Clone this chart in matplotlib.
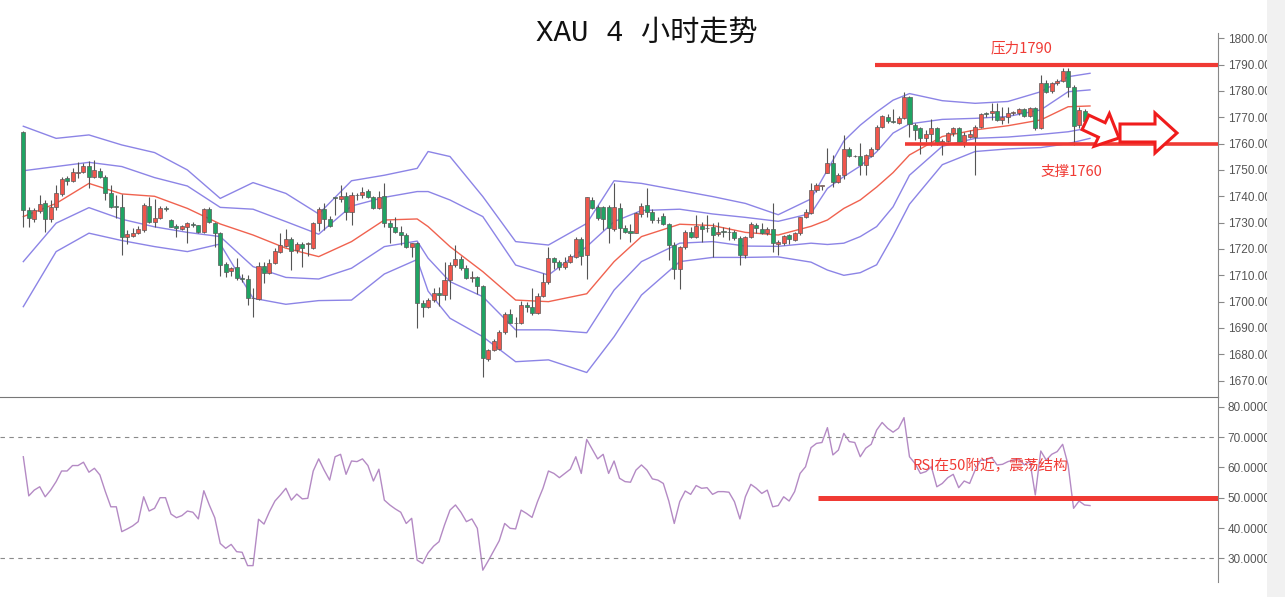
import matplotlib.pyplot as plt
import matplotlib.patches as mpatches
import numpy as np

# ---- données (bougies 4H, indice = position) ----
OPEN = [1764.5, 1734.8, 1731.4, 1734.6, 1737.6, 1731.5, 1735.8, 1740.9, 1746.8, 1745.9,
        1749.0, 1749.4, 1751.5, 1747.5, 1749.7, 1747.5, 1741.4, 1736.3, 1735.8, 1724.7,
        1725.0, 1726.0, 1727.2, 1736.3, 1730.4, 1731.6, 1735.4, 1731.0, 1728.7, 1727.7,
        1728.2, 1729.5, 1729.0, 1726.6, 1735.1, 1730.0, 1726.2, 1714.3, 1711.8, 1713.0,
        1708.9, 1708.5, 1701.3, 1701.0, 1713.7, 1711.0, 1714.6, 1719.0, 1721.1, 1723.8,
        1719.6, 1721.9, 1721.9, 1720.3, 1729.8, 1735.1, 1731.3, 1739.6, 1738.9, 1740.1,
        1734.2, 1740.5, 1740.5, 1742.0, 1739.6, 1735.7, 1740.1, 1730.0, 1728.5, 1726.6,
        1725.3, 1720.6, 1722.2, 1699.6, 1697.9, 1700.6, 1703.4, 1702.5, 1708.2, 1713.9,
        1716.1, 1712.7, 1708.9, 1709.3, 1706.0, 1678.1, 1681.7, 1681.9, 1688.3, 1695.3,
        1692.0, 1691.8, 1698.7, 1697.9, 1695.6, 1702.0, 1707.6, 1716.5, 1715.2, 1713.0,
        1715.2, 1717.1, 1723.7, 1717.7, 1738.6, 1735.8, 1735.8, 1735.8, 1727.5, 1735.4,
        1727.9, 1726.8, 1726.2, 1733.3, 1736.7, 1734.2, 1731.0, 1732.5, 1729.5, 1721.5,
        1712.3, 1720.6, 1726.6, 1724.7, 1728.7, 1727.9, 1728.2, 1725.7, 1726.6, 1726.4,
        1726.6, 1724.1, 1717.7, 1724.7, 1729.1, 1727.5, 1726.2, 1727.5, 1721.9, 1722.4,
        1725.3, 1723.4, 1726.0, 1732.0, 1733.8, 1742.4, 1743.9, 1748.9, 1752.5, 1745.6,
        1748.1, 1757.9, 1755.3, 1755.3, 1751.7, 1755.4, 1757.9, 1766.2, 1770.0, 1768.4,
        1768.0, 1769.6, 1777.6, 1767.1, 1765.8, 1762.0, 1763.7, 1765.8, 1759.9, 1761.1,
        1763.9, 1766.1, 1760.8, 1762.4, 1762.4, 1766.2, 1771.5, 1771.5, 1772.5, 1769.0,
        1770.2, 1771.5, 1771.8, 1773.0, 1770.5, 1773.4, 1765.8, 1783.2, 1780.1, 1782.9,
        1783.9, 1787.7, 1781.6, 1767.1, 1772.5, 1768.4]
HIGH = [1764.8, 1735.8, 1735.4, 1740.5, 1738.6, 1738.6, 1744.3, 1747.5, 1747.7, 1750.6,
        1753.2, 1752.5, 1753.5, 1753.8, 1750.6, 1748.1, 1744.3, 1740.5, 1740.9, 1727.2,
        1727.8, 1728.7, 1737.3, 1739.9, 1738.9, 1736.3, 1736.3, 1731.2, 1729.5, 1729.1,
        1730.4, 1730.4, 1729.1, 1735.4, 1735.8, 1730.4, 1726.6, 1715.2, 1713.3, 1716.5,
        1710.5, 1710.1, 1705.1, 1715.2, 1715.2, 1716.1, 1720.3, 1726.0, 1727.5, 1724.4,
        1722.8, 1722.8, 1722.8, 1730.4, 1735.8, 1737.3, 1732.5, 1739.9, 1744.3, 1741.8,
        1741.8, 1741.4, 1743.7, 1742.7, 1740.1, 1742.1, 1745.2, 1731.0, 1732.3, 1728.7,
        1726.0, 1722.4, 1722.8, 1700.6, 1701.3, 1705.1, 1705.7, 1715.2, 1715.2, 1721.5,
        1717.3, 1713.9, 1711.8, 1709.8, 1706.3, 1681.9, 1685.7, 1689.3, 1696.2, 1697.1,
        1694.3, 1700.4, 1700.0, 1705.1, 1703.2, 1710.8, 1720.9, 1717.1, 1715.8, 1717.1,
        1718.1, 1724.4, 1724.4, 1739.9, 1739.9, 1736.7, 1736.3, 1736.7, 1744.9, 1737.3,
        1729.1, 1729.5, 1734.2, 1737.6, 1743.0, 1735.1, 1732.3, 1733.8, 1729.7, 1722.8,
        1721.1, 1727.2, 1728.5, 1732.9, 1730.4, 1732.9, 1729.7, 1730.4, 1728.5, 1728.2,
        1727.2, 1725.0, 1725.0, 1730.4, 1729.8, 1729.8, 1728.2, 1737.3, 1723.4, 1725.3,
        1725.7, 1726.6, 1732.3, 1735.1, 1744.9, 1744.9, 1744.1, 1758.2, 1755.7, 1748.7,
        1763.3, 1758.9, 1755.8, 1760.4, 1756.1, 1758.6, 1767.1, 1770.9, 1771.3, 1773.0,
        1770.5, 1779.7, 1778.1, 1768.0, 1766.4, 1765.0, 1769.2, 1766.4, 1761.6, 1764.6,
        1766.5, 1766.5, 1764.6, 1765.0, 1767.1, 1771.5, 1772.1, 1775.3, 1775.3, 1774.0,
        1774.0, 1772.5, 1773.4, 1773.4, 1774.0, 1774.0, 1786.1, 1784.2, 1783.5, 1784.4,
        1788.6, 1788.9, 1782.3, 1773.8, 1773.0, 1769.0]
LOW = [1728.5, 1728.2, 1730.4, 1733.5, 1726.6, 1730.4, 1734.8, 1740.1, 1744.3, 1745.6,
       1746.8, 1748.7, 1743.0, 1746.8, 1746.8, 1738.6, 1735.4, 1731.6, 1717.7, 1721.9,
       1724.7, 1725.7, 1726.6, 1730.0, 1728.2, 1731.3, 1734.6, 1728.2, 1724.4, 1727.2,
       1722.2, 1728.5, 1726.0, 1726.2, 1729.7, 1720.6, 1709.8, 1709.5, 1709.8, 1708.2,
       1707.6, 1698.7, 1694.3, 1700.6, 1707.0, 1710.5, 1714.3, 1718.4, 1720.6, 1712.0,
       1718.6, 1713.3, 1717.3, 1719.9, 1727.0, 1727.2, 1728.5, 1732.9, 1738.0, 1731.0,
       1729.1, 1738.6, 1739.2, 1739.2, 1735.1, 1735.1, 1728.2, 1722.2, 1726.0, 1721.6,
       1720.3, 1717.1, 1689.9, 1694.3, 1697.5, 1700.0, 1698.4, 1700.6, 1700.9, 1713.3,
       1712.0, 1708.5, 1707.6, 1702.9, 1671.5, 1677.6, 1681.4, 1681.7, 1687.7, 1691.8,
       1686.7, 1691.5, 1696.2, 1695.0, 1695.3, 1701.7, 1706.7, 1712.3, 1712.0, 1712.3,
       1714.8, 1716.5, 1713.9, 1708.5, 1735.1, 1731.0, 1727.2, 1722.2, 1727.0, 1723.7,
       1726.0, 1722.8, 1726.0, 1732.3, 1732.3, 1729.8, 1729.8, 1729.1, 1715.8, 1708.5,
       1704.7, 1719.9, 1724.1, 1724.1, 1722.8, 1726.6, 1716.8, 1724.9, 1724.7, 1723.4,
       1723.4, 1713.9, 1716.5, 1724.1, 1726.0, 1725.7, 1725.3, 1719.0, 1717.7, 1721.5,
       1721.9, 1723.2, 1725.3, 1731.6, 1733.3, 1741.8, 1742.4, 1748.7, 1743.4, 1745.2,
       1746.5, 1754.8, 1754.9, 1748.1, 1747.9, 1754.8, 1757.6, 1765.8, 1767.7, 1768.0,
       1767.5, 1769.2, 1762.7, 1761.4, 1756.1, 1760.8, 1759.1, 1759.5, 1755.7, 1760.8,
       1762.9, 1760.1, 1758.6, 1762.0, 1748.1, 1765.8, 1770.2, 1769.0, 1768.4, 1767.5,
       1767.7, 1770.8, 1770.8, 1770.0, 1770.0, 1765.2, 1765.4, 1779.1, 1779.1, 1782.3,
       1783.5, 1777.8, 1759.5, 1765.8, 1768.0, 1767.6]
CLOSE = [1734.8, 1731.6, 1734.8, 1737.1, 1731.5, 1735.8, 1741.1, 1746.4, 1745.9, 1749.4,
         1749.4, 1751.5, 1747.5, 1750.0, 1747.5, 1741.4, 1735.8, 1735.8, 1724.4, 1725.7,
         1726.2, 1727.5, 1736.7, 1730.4, 1731.6, 1735.4, 1735.1, 1728.5, 1727.8, 1728.7,
         1729.7, 1729.0, 1726.6, 1735.1, 1730.4, 1726.2, 1713.9, 1711.4, 1712.9, 1708.9,
         1708.7, 1701.3, 1701.2, 1713.7, 1711.0, 1714.8, 1719.2, 1721.4, 1723.8, 1719.4,
         1721.9, 1720.3, 1722.0, 1730.0, 1735.1, 1731.3, 1728.7, 1739.5, 1740.1, 1734.2,
         1740.5, 1740.4, 1741.8, 1739.6, 1735.4, 1739.9, 1730.0, 1728.5, 1726.6, 1725.3,
         1720.6, 1722.2, 1699.6, 1697.9, 1700.6, 1703.2, 1702.5, 1708.2, 1713.9, 1716.1,
         1712.7, 1708.9, 1709.5, 1706.0, 1678.5, 1681.7, 1685.2, 1688.6, 1695.3, 1692.0,
         1691.8, 1698.7, 1697.9, 1695.6, 1702.2, 1707.6, 1716.5, 1715.2, 1713.0, 1715.2,
         1717.3, 1723.7, 1717.3, 1739.6, 1735.4, 1731.6, 1731.3, 1727.9, 1735.8, 1727.9,
         1726.6, 1726.2, 1733.5, 1736.3, 1734.2, 1731.0, 1730.9, 1729.5, 1721.5, 1712.3,
         1720.6, 1726.6, 1724.7, 1728.7, 1727.5, 1727.8, 1725.3, 1726.6, 1726.5, 1726.3,
         1724.1, 1717.7, 1724.7, 1729.5, 1727.9, 1726.2, 1727.5, 1722.2, 1722.8, 1724.9,
         1723.7, 1726.2, 1732.0, 1734.2, 1742.4, 1744.3, 1744.0, 1752.5, 1745.6, 1748.1,
         1757.9, 1755.3, 1755.2, 1751.7, 1755.5, 1757.9, 1766.4, 1770.5, 1768.4, 1768.3,
         1769.6, 1777.6, 1767.5, 1765.2, 1762.0, 1763.7, 1765.8, 1759.9, 1761.1, 1763.9,
         1766.1, 1760.8, 1763.3, 1763.7, 1766.5, 1771.3, 1771.4, 1772.5, 1769.0, 1770.2,
         1771.8, 1772.1, 1773.0, 1770.5, 1773.4, 1765.8, 1783.2, 1779.7, 1783.2, 1783.9,
         1787.7, 1781.6, 1766.7, 1772.8, 1768.4, 1768.2]

# bandes (deux enveloppes violettes + moyenne rouge), relevées à quelques bougies
BAND_IDX = [0, 6, 12, 18, 24, 30, 36, 42, 48, 54, 60, 66, 72, 74, 78, 84, 90, 96, 103,
            108, 113, 120, 126, 132, 138, 144, 147, 150, 153, 156, 159, 162, 168, 174,
            180, 186, 191, 195]
UPPER_OUT = [1766.6, 1762.0, 1763.3, 1759.5, 1756.6, 1750.0, 1739.2, 1745.2, 1741.1, 1733.3,
             1745.9, 1748.0, 1750.6, 1757.0, 1755.1, 1739.9, 1722.8, 1721.5, 1729.7, 1745.9,
             1744.9, 1742.2, 1739.9, 1737.3, 1733.0, 1739.0, 1750.0, 1761.0, 1767.0, 1772.0,
             1776.5, 1779.0, 1776.3, 1775.3, 1776.0, 1779.7, 1785.4, 1786.7]
UPPER_IN = [1749.7, 1751.3, 1752.9, 1751.3, 1747.1, 1743.9, 1735.8, 1735.1, 1730.4, 1725.6,
            1736.3, 1739.6, 1741.8, 1741.8, 1738.6, 1732.3, 1713.9, 1710.1, 1720.9, 1730.4,
            1734.6, 1735.1, 1733.3, 1732.0, 1730.5, 1733.5, 1743.0, 1747.5, 1751.5, 1756.9,
            1764.0, 1767.5, 1769.2, 1769.6, 1770.3, 1772.8, 1779.7, 1780.4]
MA_MID = [1732.3, 1737.3, 1744.9, 1740.9, 1740.0, 1735.4, 1729.5, 1725.3, 1720.3, 1717.1,
          1722.8, 1731.0, 1731.4, 1728.5, 1720.9, 1711.4, 1700.6, 1700.0, 1703.0, 1715.2,
          1724.7, 1729.4, 1728.9, 1726.3, 1725.3, 1728.6, 1731.0, 1735.4, 1738.6, 1743.5,
          1749.0, 1755.7, 1762.7, 1765.2, 1766.8, 1769.0, 1774.0, 1774.3]
LOWER_IN = [1715.2, 1729.8, 1735.7, 1731.3, 1728.4, 1726.3, 1724.7, 1713.3, 1709.2, 1708.6,
            1712.7, 1720.9, 1723.0, 1716.5, 1707.6, 1701.9, 1689.3, 1689.3, 1688.2, 1704.4,
            1715.2, 1722.2, 1722.8, 1721.1, 1721.0, 1722.2, 1721.7, 1722.2, 1724.7, 1728.5,
            1736.0, 1748.0, 1759.0, 1762.0, 1762.5, 1763.5, 1764.5, 1766.0]
LOWER_OUT = [1698.1, 1719.0, 1726.0, 1723.2, 1720.9, 1719.0, 1721.9, 1701.3, 1699.0, 1700.4,
             1700.6, 1710.5, 1716.0, 1704.0, 1693.7, 1686.7, 1677.2, 1677.9, 1673.1, 1686.7,
             1702.5, 1715.2, 1716.8, 1716.8, 1717.0, 1715.0, 1712.0, 1710.0, 1711.0, 1714.0,
             1725.0, 1737.0, 1752.0, 1757.0, 1758.0, 1758.5, 1760.0, 1762.0]

RSI = [63.5, 50.6, 52.5, 53.6, 50.3, 52.5, 55.3, 58.8, 58.8, 60.6,
       60.6, 61.7, 58.4, 59.7, 57.5, 52.0, 47.0, 47.0, 38.8, 39.7,
       40.7, 42.1, 50.3, 45.6, 46.5, 50.0, 50.0, 44.6, 43.4, 44.1,
       45.6, 45.2, 43.0, 52.3, 47.6, 43.4, 34.9, 33.3, 34.6, 32.2,
       32.0, 27.6, 27.6, 42.9, 41.3, 45.4, 48.9, 50.9, 53.1, 49.2,
       51.2, 49.6, 49.8, 58.8, 62.8, 59.1, 55.8, 63.5, 64.3, 57.7,
       62.1, 61.9, 62.8, 60.6, 55.5, 59.4, 49.2, 47.6, 46.3, 45.2,
       41.5, 43.2, 29.4, 28.3, 31.8, 34.0, 35.5, 41.0, 45.9, 47.6,
       45.2, 42.1, 43.0, 39.9, 26.1, 29.2, 32.5, 35.8, 41.5, 39.9,
       39.7, 45.9, 44.8, 43.5, 48.7, 53.1, 58.8, 58.0, 56.6, 58.0,
       59.4, 63.5, 58.0, 69.2, 66.0, 62.8, 64.3, 58.0, 62.1, 56.4,
       55.3, 55.1, 59.1, 60.8, 59.1, 56.2, 55.8, 54.7, 48.9, 41.5,
       48.7, 52.2, 51.1, 54.0, 53.1, 53.3, 51.1, 52.0, 52.0, 51.8,
       48.7, 43.0, 50.3, 54.4, 53.1, 51.4, 52.5, 47.0, 47.4, 50.3,
       48.9, 52.0, 58.0, 60.2, 66.5, 67.9, 68.2, 73.1, 64.1, 65.7,
       71.2, 68.5, 68.2, 63.5, 66.3, 67.6, 72.3, 74.8, 72.9, 71.6,
       72.9, 76.4, 63.5, 61.3, 58.0, 58.6, 60.2, 53.6, 54.7, 56.6,
       57.7, 53.3, 55.5, 54.7, 59.1, 62.4, 62.4, 63.3, 60.8, 61.0,
       61.9, 62.4, 62.8, 60.8, 62.1, 50.9, 65.4, 62.4, 64.3, 65.2,
       67.6, 60.8, 46.5, 48.9, 47.6, 47.4]

PRICE_TICKS = list(range(1670, 1801, 10))
RSI_TICKS = [30, 40, 50, 60, 70, 80]
RESISTANCE = 1790
SUPPORT = 1760

W, H = 1285, 597
C_UP, C_DOWN = '#f0564c', '#1fa463'
C_BAND, C_MA, C_RSI = '#8c84e6', '#f0624f', '#b48ac4'
C_ANNOT = '#f03a34'

fig = plt.figure(figsize=(W / 100, H / 100), dpi=100)
ax = fig.add_axes([0, 1 - 397 / H, 1218 / W, (397 - 33) / H])
ax_rsi = fig.add_axes([0, 1 - 582 / H, 1218 / W, (582 - 397) / H])

x = np.arange(len(CLOSE))
o, h, l, c = map(np.array, (OPEN, HIGH, LOW, CLOSE))
up = c >= o

# mèches puis corps
ax.vlines(x, l, h, color='#555555', linewidth=0.8, zorder=2)
body_low = np.minimum(o, c)
body_h = np.maximum(np.abs(c - o), 0.25)
ax.bar(x, body_h, bottom=body_low, width=0.74,
       color=np.where(up, C_UP, C_DOWN), edgecolor='#5a5a5a', linewidth=0.5, zorder=3)

for vals in (UPPER_OUT, UPPER_IN, LOWER_IN, LOWER_OUT):
    ax.plot(BAND_IDX, vals, color=C_BAND, linewidth=1.0, zorder=1)
ax.plot(BAND_IDX, MA_MID, color=C_MA, linewidth=1.0, zorder=1)

xlim = (-4.26, 218.4)
ax.set_xlim(*xlim)
ax.set_ylim(1663.8, 1802.0)

# niveaux résistance / support
ax.hlines(RESISTANCE, 155.7, xlim[1], color=C_ANNOT, linewidth=3.0, zorder=4)
ax.hlines(SUPPORT, 161.2, xlim[1], color=C_ANNOT, linewidth=2.6, zorder=4)

# RSI
ax_rsi.plot(x, RSI, color=C_RSI, linewidth=1.0)
ax_rsi.set_xlim(*xlim)
ax_rsi.set_ylim(22.2, 83.2)
for lvl in (30, 70):
    ax_rsi.axhline(lvl, color='#8a8a8a', linewidth=0.8, dashes=(4, 4))
ax_rsi.hlines(50, 145.3, xlim[1], color=C_ANNOT, linewidth=3.6, zorder=4)

for a, ticks, fmt in ((ax, PRICE_TICKS, '{:.2f}'), (ax_rsi, RSI_TICKS, '{:.4f}')):
    a.set_facecolor('none')
    a.yaxis.tick_right()
    a.set_yticks(ticks)
    a.set_yticklabels([fmt.format(t) for t in ticks])
    a.tick_params(axis='y', colors='#888888', labelcolor='#555555', labelsize=8.5,
                  length=4, width=0.8, pad=3)
    a.set_xticks([])
    for s in ('top', 'left', 'bottom'):
        a.spines[s].set_visible(False)
    a.spines['right'].set_color('#888888')
ax.spines['bottom'].set_visible(True)
ax.spines['bottom'].set_color('#777777')
for lab in ax.get_yticklabels() + ax_rsi.get_yticklabels():
    lab.set_family(['Liberation Sans', 'DejaVu Sans'])

# textes
fig.text(647 / W, 1 - 33 / H, 'XAU 4 小时走势', ha='center', va='center', fontsize=21,
         family=['Liberation Mono', 'Noto Sans CJK SC'], color='#111111')
cjk = ['Noto Sans CJK SC', 'DejaVu Sans']
fig.text(1021 / W, 1 - 48 / H, '压力1790', ha='center', va='center', fontsize=10.5,
         family=cjk, color=C_ANNOT)
fig.text(1071 / W, 1 - 172 / H, '支撑1760', ha='center', va='center', fontsize=10.5,
         family=cjk, color=C_ANNOT)
fig.text(990 / W, 1 - 466 / H, 'RSI在50附近，震荡结构', ha='center', va='center',
         fontsize=10.5, family=cjk, color=C_ANNOT)


def fleche(tip, angle, length, head_len, head_w, body_w):
    """Flèche creuse, coordonnées en pixels (y vers le bas)."""
    u = np.array([np.cos(np.radians(angle)), np.sin(np.radians(angle))])
    n = np.array([-u[1], u[0]])
    t = np.array(tip, dtype=float)
    b = t - head_len * u
    s = t - length * u
    pts = [s + body_w * n, b + body_w * n, b + head_w * n, t,
           b - head_w * n, b - body_w * n, s - body_w * n]
    pts = [(p[0] / W, 1 - p[1] / H) for p in pts]
    fig.patches.append(mpatches.Polygon(pts, closed=True, facecolor='white',
                                        edgecolor='#f01c1c', linewidth=2.2,
                                        transform=fig.transFigure, zorder=5))


fleche((1119, 138), 25, 37, 19, 18, 8)
fleche((1177, 133), 0, 57, 22, 20, 9)

# bande grise à droite (capture rognée)
fig.patches.append(mpatches.Rectangle((1267 / W, 0), 18 / W, 1, facecolor='#f1f1f1',
                                      edgecolor='none', transform=fig.transFigure,
                                      zorder=6))

fig.savefig('out.png', dpi=100, facecolor='white')
